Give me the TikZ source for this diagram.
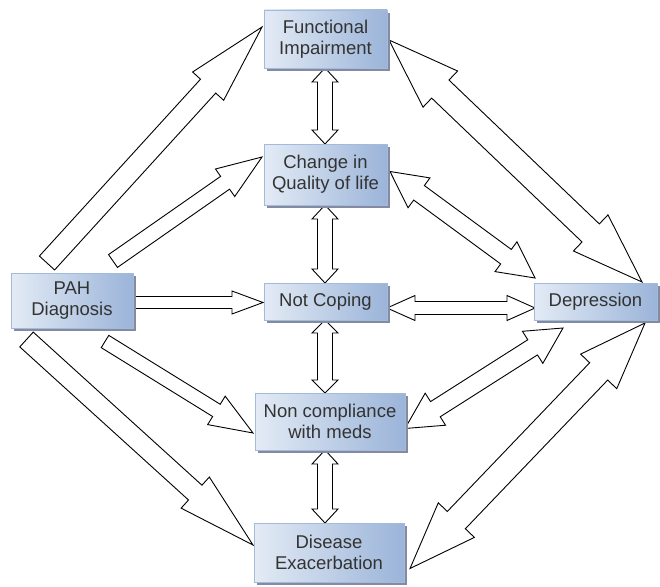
\documentclass[tikz,border=0pt]{standalone}
\usepackage{fontspec}
\setmainfont{Liberation Sans}
\usetikzlibrary{calc,shadows}
\definecolor{boxlight}{HTML}{E3EBF5}
\definecolor{boxdark}{HTML}{9BB4D9}
\definecolor{boxborder}{HTML}{A3BADB}
\definecolor{shadowc}{HTML}{858AA3}
\definecolor{textc}{HTML}{333333}
\pgfdeclarelayer{bg}
\pgfsetlayers{bg,main}
\tikzset{
  box/.style={draw=boxborder, line width=0.8pt, left color=boxlight, right color=boxdark,
    drop shadow={shadow xshift=3pt, shadow yshift=-3pt, fill=shadowc, opacity=1},
    inner sep=0pt, outer sep=0pt, align=center, text=textc,
    font=\fontsize{18.5}{21}\selectfont},
  blk/.style={draw=black, fill=white, line width=0.9pt, line join=miter, miter limit=10}
}
% single block arrow: tail, tip, shaft half width, head half width, head length
\newcommand{\sarr}[5]{%
  \coordinate (s1) at #1; \coordinate (s2) at #2;
  \coordinate (s3) at ($(s2)!#5!(s1)$);
  \draw[blk] ($(s1)!#3!90:(s2)$) -- ($(s3)!#3!90:(s2)$) -- ($(s3)!#4!90:(s2)$) -- (s2)
    -- ($(s3)!#4!-90:(s2)$) -- ($(s3)!#3!-90:(s2)$) -- ($(s1)!#3!-90:(s2)$) -- cycle;
}
% double block arrow: end A, end B, shaft half width, head half width, head length
\newcommand{\darr}[5]{%
  \coordinate (d1) at #1; \coordinate (d2) at #2;
  \coordinate (d3) at ($(d1)!#5!(d2)$); \coordinate (d4) at ($(d2)!#5!(d1)$);
  \draw[blk] (d1) -- ($(d3)!#4!90:(d2)$) -- ($(d3)!#3!90:(d2)$) -- ($(d4)!#3!90:(d2)$)
    -- ($(d4)!#4!90:(d2)$) -- (d2) -- ($(d4)!#4!-90:(d2)$) -- ($(d4)!#3!-90:(d2)$)
    -- ($(d3)!#3!-90:(d2)$) -- ($(d3)!#4!-90:(d2)$) -- cycle;
}
\begin{document}
\begin{tikzpicture}[x=1pt,y=-1pt]
\useasboundingbox (0,0) rectangle (660,586);
\node[box, minimum width=123pt, minimum height=58pt] (fi) at (325.5,39) {Functional\\Impairment};
\node[box, minimum width=123pt, minimum height=61pt] (cql) at (325.5,174.5) {Change in\\Quality of life};
\node[box, minimum width=123pt, minimum height=37pt] (nc) at (325.5,301.5) {Not Coping};
\node[box, minimum width=122pt, minimum height=55pt] (pah) at (72,300.5) {PAH\\Diagnosis};
\node[box, minimum width=123pt, minimum height=37pt] (dep) at (595.5,301.5) {Depression};
\node[box, minimum width=150pt, minimum height=57pt] (ncm) at (330,421.5) {Non compliance\\with meds};
\node[box, minimum width=150pt, minimum height=59pt] (de) at (329,552.5) {Disease\\Exacerbation};
\begin{pgfonlayer}{bg}
% from PAH
\sarr{($(pah.north west)+(36,-10)$)}{($(fi.west)+(-2,-12)$)}{10.3pt}{21pt}{80pt}
\sarr{($(pah.north east)+(-20,-12)$)}{($(cql.west)+(-2,-17.5)$)}{7.8pt}{16.8pt}{45pt}
\sarr{($(pah.east)+(0,2)$)}{($(nc.west)+(-1,1)$)}{6pt}{11.5pt}{31pt}
\sarr{($(pah.south east)+(-28,13.5)$)}{($(ncm.west)+(-2,11.5)$)}{7.2pt}{16.7pt}{43pt}
\sarr{($(pah.south west)+(15.5,11.5)$)}{($(de.west)+(-1,-7.5)$)}{10pt}{21pt}{78pt}
% vertical chain
\darr{($(fi.south)+(-0.5,0)$)}{($(cql.north)+(-0.5,0)$)}{7.5pt}{13pt}{14pt}
\darr{($(cql.south)+(-0.5,0)$)}{($(nc.north)+(-0.5,0)$)}{7.5pt}{13pt}{14pt}
\darr{($(nc.south)+(-0.5,0)$)}{($(ncm.north)+(-5,0)$)}{7.5pt}{13pt}{13pt}
\darr{($(ncm.south)+(-5,0)$)}{($(de.north)+(-4,0)$)}{7.5pt}{13pt}{14pt}
% to Depression
\darr{($(nc.east)+(0,6.5)$)}{($(dep.west)+(1,6.5)$)}{6.5pt}{12.5pt}{28pt}
\darr{($(fi.east)+(2,1)$)}{($(dep.north east)+(-15,-1)$)}{12.5pt}{25pt}{71pt}
\darr{($(cql.east)+(3,-3)$)}{($(dep.north west)+(1,-5)$)}{9pt}{18.5pt}{36pt}
\darr{($(ncm.east)+(0,7)$)}{($(dep.south west)+(29,8)$)}{9pt}{19pt}{36pt}
\darr{($(de.east)+(6,16)$)}{($(dep.south east)+(-12,3)$)}{12.5pt}{25pt}{67pt}
\end{pgfonlayer}
\end{tikzpicture}
\end{document}
